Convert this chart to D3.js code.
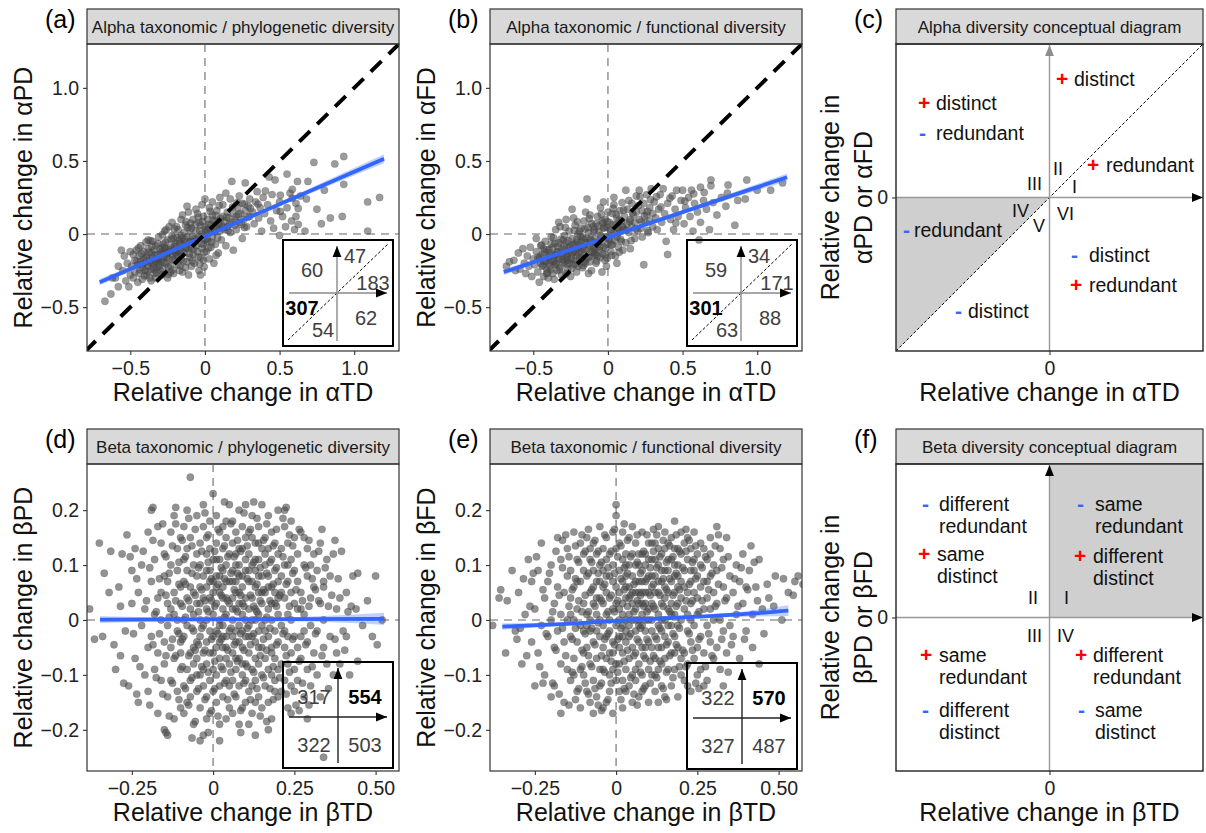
<!DOCTYPE html>
<html>
<head>
<meta charset="utf-8">
<script src="https://cdn.jsdelivr.net/npm/d3@7"></script>
<style>
  body { margin: 0; background: #fff; }
  text { font-family: Arial, "Liberation Sans", sans-serif; }
</style>
</head>
<body>
<div id="fig"></div>
<script>
// ---------- data ----------
const alphaTicks = [-0.5, 0, 0.5, 1.0];
const alphaTickLabels = ["−0.5", "0", "0.5", "1.0"];
const betaXTicks = [-0.25, 0, 0.25, 0.5];
const betaXTickLabels = ["−0.25", "0", "0.25", "0.50"];
const betaYTicks = [-0.2, -0.1, 0, 0.1, 0.2];
const betaYTickLabels = ["−0.2", "−0.1", "0", "0.1", "0.2"];

// quadrant counts: alpha [UL, UR above 1:1, UR below 1:1, LL above 1:1, LL below 1:1, LR]
const alphaPDCounts = [60, 47, 183, 307, 54, 62];
const alphaFDCounts = [59, 34, 171, 301, 63, 88];
// beta [UL, UR, LL, LR]
const betaPDCounts = [317, 554, 322, 503];
const betaFDCounts = [322, 570, 327, 487];

// fitted lines: [x, y, half width of ribbon]
const alphaPDFit = [[-0.705, -0.329, 0.022], [-0.3, -0.150, 0.012], [0, -0.017, 0.009], [0.6, 0.249, 0.016], [1.2, 0.515, 0.030]];
const alphaFDFit = [[-0.698, -0.260, 0.020], [-0.3, -0.124, 0.011], [0, -0.021, 0.008], [0.6, 0.184, 0.014], [1.2, 0.389, 0.026]];
const betaPDFit = [[-0.348, 0.0006, 0.006], [0, 0.001, 0.003], [0.25, 0.0015, 0.004], [0.526, 0.002, 0.011]];
const betaFDFit = [[-0.35, -0.012, 0.006], [-0.15, -0.007, 0.003], [0.05, 0.000, 0.003], [0.25, 0.006, 0.003], [0.40, 0.011, 0.005], [0.53, 0.017, 0.010]];

// points: [relative change TD, relative change PD / FD]
const alphaPD = [
[-0.67,-0.46],[-0.63,-0.41],[-0.60,-0.30],[-0.58,-0.36],[-0.56,-0.11],[-0.55,-0.25],[-0.53,-0.32],[-0.52,-0.20],[-0.51,-0.36],[-0.50,-0.28],[-0.58,-0.22],[-0.54,-0.15],[-0.62,-0.30],[-0.50,-0.12],
[-0.49,-0.22],[-0.48,-0.30],[-0.47,-0.18],[-0.47,-0.26],[-0.46,-0.11],[-0.45,-0.33],[-0.45,-0.21],[-0.44,-0.15],[-0.44,-0.27],[-0.43,-0.08],[-0.42,-0.23],[-0.42,-0.31],[-0.41,-0.17],[-0.41,-0.12],[-0.40,-0.25],[-0.40,-0.20],[-0.48,-0.14],[-0.43,-0.19],
[-0.39,-0.15],[-0.39,-0.28],[-0.38,-0.22],[-0.38,-0.10],[-0.37,-0.18],[-0.37,-0.30],[-0.36,-0.13],[-0.36,-0.24],[-0.35,-0.05],[-0.35,-0.20],[-0.35,-0.16],[-0.34,-0.27],[-0.34,-0.11],[-0.33,-0.19],[-0.33,-0.08],[-0.32,-0.23],[-0.32,-0.14],[-0.31,-0.02],[-0.31,-0.17],[-0.30,-0.25],[-0.30,-0.10],[-0.36,-0.32],[-0.33,-0.30],[-0.38,-0.04],[-0.31,-0.20],
[-0.29,-0.12],[-0.29,-0.19],[-0.28,-0.07],[-0.28,-0.24],[-0.27,-0.15],[-0.27,0.02],[-0.26,-0.10],[-0.26,-0.20],[-0.25,-0.30],[-0.25,-0.13],[-0.25,-0.04],[-0.24,-0.17],[-0.24,0.05],[-0.23,-0.09],[-0.23,-0.22],[-0.22,-0.14],[-0.22,-0.01],[-0.21,-0.27],[-0.21,-0.11],[-0.20,-0.06],[-0.20,-0.18],[-0.29,-0.28],[-0.27,-0.09],[-0.24,-0.12],[-0.22,0.08],[-0.26,0.03],[-0.28,-0.16],[-0.21,-0.03],[-0.23,-0.26],[-0.20,-0.13],
[-0.19,-0.08],[-0.19,-0.15],[-0.18,0.03],[-0.18,-0.21],[-0.17,-0.11],[-0.17,-0.04],[-0.16,0.10],[-0.16,-0.17],[-0.15,-0.07],[-0.15,-0.26],[-0.14,0.01],[-0.14,-0.13],[-0.13,-0.09],[-0.13,0.06],[-0.12,-0.19],[-0.12,-0.02],[-0.11,0.15],[-0.11,-0.10],[-0.10,-0.05],[-0.10,-0.16],[-0.19,0.05],[-0.17,-0.25],[-0.15,0.13],[-0.14,-0.05],[-0.12,0.19],[-0.13,-0.23],[-0.11,-0.28],[-0.18,-0.12],[-0.16,-0.01],[-0.10,0.03],
[-0.09,-0.09],[-0.09,0.04],[-0.08,-0.14],[-0.08,0.10],[-0.07,-0.03],[-0.07,-0.20],[-0.06,0.02],[-0.06,-0.08],[-0.05,0.14],[-0.05,-0.12],[-0.04,-0.02],[-0.04,-0.25],[-0.03,0.06],[-0.03,-0.16],[-0.02,0.00],[-0.02,0.20],[-0.01,-0.07],[-0.01,-0.18],[0.00,0.24],[0.00,-0.04],[-0.09,-0.22],[-0.06,0.17],[-0.04,0.08],[-0.02,-0.10],[-0.01,0.12],[-0.08,-0.05],[-0.03,-0.28],[0.00,0.05],
[0.01,0.03],[0.01,-0.12],[0.02,0.10],[0.02,-0.05],[0.03,0.01],[0.03,0.18],[0.04,-0.09],[0.04,0.06],[0.05,0.13],[0.05,-0.02],[0.06,0.03],[0.06,-0.20],[0.07,0.09],[0.07,-0.07],[0.08,0.04],[0.08,0.16],[0.09,-0.13],[0.09,0.07],[0.10,0.02],[0.10,0.25],[0.05,0.22],[0.03,-0.17],
[0.11,0.06],[0.11,-0.04],[0.12,0.12],[0.12,0.20],[0.13,0.03],[0.13,0.09],[0.14,-0.08],[0.15,0.15],[0.15,0.05],[0.16,0.11],[0.17,0.01],[0.17,0.24],[0.18,0.08],[0.18,0.36],[0.19,0.14],[0.19,-0.11],[0.20,0.06],[0.14,0.28],
[0.21,0.12],[0.21,0.03],[0.22,0.18],[0.23,0.08],[0.23,0.26],[0.24,0.14],[0.25,-0.03],[0.25,0.21],[0.26,0.10],[0.27,0.35],[0.27,0.16],[0.28,0.05],[0.29,0.19],[0.30,0.24],[0.30,0.12],
[0.32,0.15],[0.33,0.07],[0.34,0.22],[0.35,0.29],[0.36,0.11],[0.37,0.18],[0.38,0.02],[0.39,0.25],[0.40,0.14],[0.42,0.20],[0.43,0.39],[0.44,0.09],[0.45,0.27],[0.46,0.04],[0.47,0.37],[0.48,0.16],
[0.50,-0.01],[0.50,0.22],[0.52,0.12],[0.54,0.05],[0.55,0.41],[0.55,0.18],[0.57,0.28],[0.58,0.09],[0.60,0.03],[0.61,0.21],[0.61,0.12],[0.62,0.36],[0.64,0.26],[0.67,0.02],[0.68,0.24],[0.69,0.36],
[0.73,0.49],[0.75,0.17],[0.80,0.30],[0.84,0.11],[0.87,0.48],[0.92,0.12],[0.93,0.53],[0.93,0.34],[1.09,0.22],[1.09,0.02],[1.17,0.25],[0.78,0.07],
[-0.455,-0.185],[-0.435,-0.245],[-0.425,-0.135],[-0.415,-0.205],[-0.395,-0.165],[-0.385,-0.255],[-0.375,-0.125],[-0.365,-0.195],[-0.355,-0.085],[-0.345,-0.225],[-0.335,-0.145],[-0.325,-0.175],[-0.315,-0.065],[-0.305,-0.215],[-0.295,-0.135],[-0.285,-0.095],[-0.275,-0.195],[-0.265,-0.055],[-0.255,-0.155],[-0.245,-0.225],[-0.235,-0.105],[-0.225,-0.035],[-0.215,-0.175],[-0.205,-0.085],[-0.195,-0.125],[-0.185,-0.025],[-0.175,-0.155],[-0.165,-0.065],[-0.155,-0.115],[-0.145,-0.185],[-0.135,-0.035],[-0.125,-0.095],[-0.115,0.045],[-0.105,-0.135],[-0.095,-0.055],[-0.085,-0.015],[-0.075,-0.105],[-0.065,0.065],[-0.055,-0.035],[-0.045,-0.155],[-0.035,0.025],[-0.025,-0.065],[-0.015,0.085],[-0.005,-0.125],[0.005,0.015],[0.015,-0.035],[0.025,0.065],[0.035,0.035],[0.045,-0.055],[0.055,0.095],[0.065,0.015],[0.075,0.125],[0.085,-0.025],[0.095,0.055],[0.105,0.105],[0.125,0.045],[0.145,0.115],[0.165,0.065],[0.185,0.185],[0.205,0.095],[0.225,0.135],[0.245,0.065],[0.265,0.205],[0.285,0.115],
[-0.445,-0.095],[-0.405,-0.285],[-0.365,-0.045],[-0.325,-0.265],[-0.285,-0.005],[-0.245,-0.275],[-0.205,0.035],[-0.165,-0.215],[-0.125,0.085],[-0.085,-0.185],[-0.045,0.115],[-0.005,-0.225],[0.035,0.155],[0.075,-0.145],[-0.395,-0.055],[-0.335,-0.245],[-0.275,-0.125],[-0.215,-0.245],[-0.155,-0.025],[-0.095,0.075],[-0.035,-0.205],[0.025,-0.095],[0.095,0.195],[0.155,0.025],[0.215,0.215],[0.265,0.045],[0.305,0.175],[0.355,0.205],[0.405,0.295],[0.505,0.155],[0.585,0.245],[0.625,0.175],[0.625,0.065],[0.585,0.305],[0.505,0.265]
];

const alphaFD = [
[-0.68,-0.22],[-0.66,-0.19],[-0.63,-0.18],[-0.62,-0.25],[-0.60,-0.13],[-0.59,-0.24],[-0.57,-0.10],[-0.56,-0.20],[-0.55,-0.27],[-0.54,-0.15],[-0.53,-0.22],[-0.52,-0.09],[-0.51,-0.29],[-0.50,-0.17],
[-0.49,-0.21],[-0.48,-0.12],[-0.47,-0.26],[-0.46,-0.33],[-0.46,-0.17],[-0.45,-0.08],[-0.44,-0.22],[-0.44,-0.14],[-0.43,-0.29],[-0.42,-0.19],[-0.42,-0.05],[-0.41,-0.24],[-0.41,-0.11],[-0.40,-0.16],[-0.40,-0.30],[-0.48,-0.03],[-0.45,-0.20],[-0.43,-0.10],[-0.47,-0.16],[-0.41,-0.27],
[-0.39,-0.13],[-0.39,-0.22],[-0.38,-0.02],[-0.38,-0.18],[-0.37,-0.27],[-0.37,-0.09],[-0.36,-0.15],[-0.36,-0.31],[-0.35,0.03],[-0.35,-0.20],[-0.34,-0.12],[-0.34,-0.25],[-0.33,-0.06],[-0.33,-0.17],[-0.32,-0.23],[-0.32,0.05],[-0.31,-0.10],[-0.31,-0.28],[-0.30,-0.15],[-0.30,-0.04],[-0.38,-0.07],[-0.35,-0.14],[-0.33,0.08],[-0.36,-0.21],[-0.30,-0.20],
[-0.29,-0.11],[-0.29,-0.19],[-0.28,0.10],[-0.28,-0.06],[-0.27,-0.24],[-0.27,-0.14],[-0.26,0.02],[-0.26,-0.09],[-0.25,-0.29],[-0.25,-0.17],[-0.24,0.17],[-0.24,-0.03],[-0.23,-0.12],[-0.23,-0.21],[-0.22,0.06],[-0.22,-0.07],[-0.21,-0.15],[-0.21,-0.26],[-0.20,0.00],[-0.20,-0.10],[-0.29,-0.01],[-0.27,-0.18],[-0.25,-0.08],[-0.24,-0.13],[-0.23,0.11],[-0.28,-0.27],[-0.26,-0.20],[-0.22,-0.18],[-0.21,-0.04],[-0.20,-0.22],
[-0.19,-0.08],[-0.19,-0.17],[-0.18,0.04],[-0.18,-0.12],[-0.17,-0.23],[-0.17,-0.02],[-0.16,0.09],[-0.16,-0.14],[-0.15,-0.06],[-0.15,-0.20],[-0.14,0.24],[-0.14,-0.10],[-0.13,0.01],[-0.13,-0.16],[-0.12,-0.04],[-0.12,0.13],[-0.11,-0.12],[-0.11,-0.25],[-0.10,0.05],[-0.10,-0.08],[-0.19,0.02],[-0.17,-0.09],[-0.15,0.15],[-0.14,-0.03],[-0.13,-0.27],[-0.12,-0.19],[-0.18,-0.05],[-0.16,-0.19],[-0.11,0.07],[-0.10,-0.15],
[-0.09,-0.03],[-0.09,-0.13],[-0.08,0.07],[-0.08,-0.20],[-0.07,-0.07],[-0.07,0.12],[-0.06,-0.11],[-0.06,0.02],[-0.05,-0.16],[-0.05,0.18],[-0.04,-0.05],[-0.04,-0.26],[-0.03,0.04],[-0.03,-0.09],[-0.02,-0.14],[-0.02,0.10],[-0.01,-0.02],[-0.01,-0.22],[0.00,0.15],[0.00,-0.07],[-0.09,0.03],[-0.07,-0.15],[-0.05,-0.01],[-0.04,0.09],[-0.02,-0.18],[-0.01,0.05],[-0.08,-0.10],[-0.03,0.22],
[0.01,-0.04],[0.01,0.08],[0.02,-0.12],[0.02,0.03],[0.03,0.14],[0.03,-0.07],[0.04,0.01],[0.04,0.20],[0.05,-0.15],[0.05,0.06],[0.06,-0.02],[0.06,0.11],[0.07,0.04],[0.07,-0.09],[0.08,0.16],[0.08,0.02],[0.09,-0.05],[0.09,0.09],[0.10,0.05],[0.10,-0.11],[0.04,0.25],[0.06,-0.20],
[0.11,0.03],[0.11,0.12],[0.12,-0.06],[0.12,0.30],[0.13,0.07],[0.13,0.17],[0.14,0.01],[0.15,0.10],[0.15,-0.10],[0.16,0.05],[0.16,0.21],[0.17,0.13],[0.18,-0.03],[0.18,0.08],[0.19,0.26],[0.19,0.15],[0.20,0.02],[0.14,0.23],
[0.21,0.10],[0.21,0.30],[0.22,0.04],[0.23,0.16],[0.23,-0.02],[0.24,0.21],[0.24,-0.21],[0.25,0.08],[0.26,0.13],[0.26,0.27],[0.27,0.01],[0.28,0.18],[0.28,0.09],[0.29,0.31],[0.30,0.05],[0.30,0.14],
[0.31,0.22],[0.32,0.11],[0.33,0.03],[0.34,0.17],[0.35,0.27],[0.36,0.08],[0.37,0.31],[0.38,0.14],[0.39,-0.05],[0.40,-0.14],[0.40,0.21],[0.42,0.10],[0.43,0.26],[0.44,0.03],[0.45,0.17],[0.46,0.30],[0.47,0.12],[0.49,0.23],
[0.50,0.30],[0.51,0.07],[0.52,0.18],[0.54,0.25],[0.55,0.12],[0.56,0.30],[0.57,0.02],[0.58,0.21],[0.60,0.15],[0.61,-0.04],[0.62,0.32],[0.62,0.08],[0.64,0.23],[0.66,0.17],[0.68,0.03],[0.69,0.37],
[0.69,0.33],[0.73,0.13],[0.76,0.25],[0.80,0.28],[0.85,0.06],[0.87,0.23],[0.92,0.24],[0.93,0.37],[1.00,0.30],[1.09,0.30],[1.17,0.35],[0.79,0.19],
[-0.455,-0.155],[-0.435,-0.215],[-0.425,-0.125],[-0.415,-0.185],[-0.395,-0.105],[-0.385,-0.245],[-0.375,-0.145],[-0.365,-0.185],[-0.355,-0.065],[-0.345,-0.205],[-0.335,-0.125],[-0.325,-0.155],[-0.315,-0.035],[-0.305,-0.175],[-0.295,-0.085],[-0.285,-0.135],[-0.275,-0.205],[-0.265,-0.045],[-0.255,-0.115],[-0.245,-0.235],[-0.235,-0.075],[-0.225,0.025],[-0.215,-0.125],[-0.205,-0.055],[-0.195,-0.135],[-0.185,-0.015],[-0.175,-0.165],[-0.165,-0.035],[-0.155,-0.105],[-0.145,-0.165],[-0.135,0.045],[-0.125,-0.075],[-0.115,-0.035],[-0.105,-0.125],[-0.095,0.015],[-0.085,-0.055],[-0.075,-0.185],[-0.065,0.055],[-0.055,-0.085],[-0.045,-0.025],[-0.035,-0.135],[-0.025,0.045],[-0.015,-0.095],[-0.005,0.085],[0.005,-0.025],[0.015,0.025],[0.025,-0.075],[0.035,0.065],[0.045,-0.045],[0.055,0.135],[0.065,0.005],[0.075,0.095],[0.085,-0.035],[0.095,0.045],[0.105,0.165],[0.125,0.025],[0.145,0.085],[0.165,0.145],[0.185,0.035],[0.205,0.195],[0.225,0.085],[0.245,0.125],[0.265,0.025],[0.285,0.235],
[-0.445,-0.075],[-0.405,-0.265],[-0.365,-0.025],[-0.325,-0.245],[-0.285,0.045],[-0.245,-0.165],[-0.205,0.085],[-0.165,-0.215],[-0.125,0.105],[-0.085,-0.145],[-0.045,0.135],[-0.005,-0.165],[0.035,0.175],[0.075,-0.125],[-0.395,-0.195],[-0.335,-0.085],[-0.275,-0.155],[-0.215,-0.205],[-0.155,0.035],[-0.095,-0.095],[-0.035,0.075],[0.025,-0.145],[0.095,0.215],[0.155,-0.045],[0.215,0.255],[0.265,0.155],[0.325,0.255],[0.355,0.185],[0.415,0.245],[0.455,0.075],[0.515,0.225],[0.575,0.275],[0.645,0.285],[0.705,0.215],[0.805,0.335]
];

const betaPD = [
[-0.38,0.02],[-0.35,0.14],[-0.34,-0.03],[-0.32,0.05],
[-0.30,-0.09],[-0.29,0.06],[-0.28,0.12],[-0.27,-0.02],[-0.26,-0.12],[-0.25,0.09],
[-0.25,0.03],[-0.24,-0.07],[-0.24,0.13],[-0.23,-0.15],[-0.23,0.05],[-0.22,-0.01],[-0.22,0.10],[-0.21,-0.10],[-0.21,0.02],[-0.20,-0.05],[-0.20,0.16],
[-0.20,-0.13],[-0.19,0.07],[-0.19,-0.03],[-0.19,0.20],[-0.18,-0.09],[-0.18,0.01],[-0.18,0.11],[-0.17,-0.17],[-0.17,0.04],[-0.17,-0.06],[-0.16,0.14],[-0.16,-0.11],[-0.16,0.00],[-0.15,0.08],[-0.15,-0.20],[-0.15,-0.04],[-0.17,0.17],[-0.16,0.05],
[-0.15,0.12],[-0.15,-0.08],[-0.14,0.03],[-0.14,-0.14],[-0.14,0.07],[-0.14,-0.01],[-0.13,0.16],[-0.13,-0.05],[-0.13,0.10],[-0.13,-0.11],[-0.12,0.01],[-0.12,-0.18],[-0.12,0.05],[-0.12,-0.07],[-0.12,0.19],[-0.11,-0.02],[-0.11,0.09],[-0.11,-0.13],[-0.11,0.13],[-0.11,0.00],[-0.10,-0.09],[-0.10,0.06],[-0.10,-0.04],[-0.10,0.15],[-0.10,-0.16],[-0.14,-0.21],[-0.13,0.02],
[-0.10,0.03],[-0.10,-0.06],[-0.09,0.11],[-0.09,-0.12],[-0.09,0.00],[-0.09,0.07],[-0.09,-0.03],[-0.09,0.17],[-0.08,-0.09],[-0.08,0.04],[-0.08,-0.15],[-0.08,0.13],[-0.08,-0.01],[-0.08,0.09],[-0.07,0.26],[-0.07,-0.06],[-0.07,0.02],[-0.07,-0.11],[-0.07,0.06],[-0.07,0.15],[-0.06,-0.02],[-0.06,-0.19],[-0.06,0.10],[-0.06,0.01],[-0.06,-0.08],[-0.06,0.05],[-0.05,-0.13],[-0.05,0.12],[-0.05,-0.04],[-0.05,0.08],[-0.05,0.19],[-0.05,-0.10],[-0.09,-0.17],[-0.08,0.20],[-0.07,-0.14],[-0.06,-0.05],[-0.05,0.03],
[-0.05,-0.07],[-0.04,0.00],[-0.04,0.14],[-0.04,-0.10],[-0.04,0.06],[-0.04,-0.03],[-0.04,0.10],[-0.04,-0.16],[-0.03,0.04],[-0.03,-0.06],[-0.03,0.17],[-0.03,-0.12],[-0.03,0.08],[-0.03,-0.01],[-0.03,0.21],[-0.03,-0.21],[-0.02,0.02],[-0.02,-0.08],[-0.02,0.12],[-0.02,-0.04],[-0.02,0.06],[-0.02,-0.14],[-0.02,0.15],[-0.02,0.00],[-0.01,-0.11],[-0.01,0.09],[-0.01,-0.02],[-0.01,0.04],[-0.01,-0.17],[-0.01,0.13],[-0.01,-0.06],[-0.01,0.18],[0.00,0.01],[0.00,-0.09],[0.00,0.07],[0.00,0.23],[0.00,-0.13],[0.00,-0.03],[0.00,0.11],[-0.04,0.03],[-0.03,-0.09],[-0.02,0.09],[-0.01,0.07],[-0.04,-0.22],[-0.02,-0.18],[0.00,0.05],
[0.00,-0.06],[0.01,0.03],[0.01,-0.10],[0.01,0.14],[0.01,-0.02],[0.01,0.08],[0.01,-0.15],[0.01,0.19],[0.02,0.00],[0.02,-0.07],[0.02,0.11],[0.02,-0.12],[0.02,0.05],[0.02,-0.04],[0.02,0.16],[0.02,-0.19],[0.03,0.02],[0.03,-0.09],[0.03,0.09],[0.03,-0.01],[0.03,0.13],[0.03,-0.14],[0.03,0.06],[0.03,-0.05],[0.04,0.18],[0.04,-0.03],[0.04,0.04],[0.04,-0.11],[0.04,0.10],[0.04,-0.07],[0.04,0.01],[0.04,0.15],[0.05,-0.16],[0.05,0.07],[0.05,-0.02],[0.05,0.12],[0.05,-0.08],[0.05,0.03],[0.05,0.21],[0.01,0.06],[0.02,-0.01],[0.03,0.17],[0.04,-0.18],[0.01,-0.05],[0.02,0.08],[0.03,-0.03],[0.04,0.07],[0.05,-0.12],[0.01,0.11],[0.03,0.04],[0.02,-0.22],[0.04,-0.05],
[0.06,0.00],[0.06,0.09],[0.06,-0.06],[0.06,0.14],[0.06,-0.11],[0.06,0.04],[0.06,-0.17],[0.06,0.18],[0.07,-0.02],[0.07,0.07],[0.07,-0.09],[0.07,0.12],[0.07,-0.04],[0.07,0.02],[0.07,-0.14],[0.07,0.16],[0.08,0.05],[0.08,-0.07],[0.08,0.10],[0.08,-0.01],[0.08,0.20],[0.08,-0.12],[0.08,0.03],[0.08,-0.19],[0.09,0.08],[0.09,-0.05],[0.09,0.13],[0.09,-0.10],[0.09,0.01],[0.09,0.06],[0.09,-0.02],[0.09,0.17],[0.10,-0.08],[0.10,0.11],[0.10,-0.15],[0.10,0.04],[0.10,-0.03],[0.10,0.09],[0.10,0.21],[0.06,0.07],[0.07,-0.07],[0.08,0.13],[0.09,-0.16],[0.10,0.00],[0.06,-0.03],[0.07,0.10],[0.08,-0.04],[0.09,0.03],[0.10,0.15],[0.07,0.05],[0.08,0.08],[0.09,-0.08],[0.06,0.02],[0.10,-0.11],
[0.11,0.02],[0.11,-0.06],[0.11,0.12],[0.11,-0.13],[0.11,0.07],[0.11,-0.01],[0.11,0.16],[0.12,-0.09],[0.12,0.04],[0.12,-0.03],[0.12,0.10],[0.12,-0.17],[0.12,0.19],[0.12,0.00],[0.13,0.06],[0.13,-0.07],[0.13,0.14],[0.13,-0.11],[0.13,0.02],[0.13,-0.04],[0.13,0.09],[0.13,-0.21],[0.14,0.17],[0.14,-0.02],[0.14,0.05],[0.14,-0.14],[0.14,0.11],[0.14,-0.08],[0.14,0.01],[0.15,0.08],[0.15,-0.05],[0.15,0.13],[0.15,-0.10],[0.15,0.03],[0.15,0.21],[0.11,0.09],[0.12,-0.12],[0.13,0.11],[0.14,-0.05],[0.15,-0.01],[0.11,-0.03],[0.12,0.07],[0.13,-0.15],[0.14,0.14],[0.15,0.05],[0.12,0.15],[0.13,0.00],[0.14,0.08],[0.11,-0.19],[0.15,-0.16],
[0.16,0.00],[0.16,0.10],[0.16,-0.07],[0.16,0.15],[0.16,-0.12],[0.16,0.05],[0.17,-0.03],[0.17,0.08],[0.17,-0.15],[0.17,0.13],[0.17,0.02],[0.17,-0.09],[0.17,0.19],[0.18,-0.05],[0.18,0.06],[0.18,-0.18],[0.18,0.11],[0.18,0.00],[0.18,-0.10],[0.18,0.16],[0.19,0.03],[0.19,-0.07],[0.19,0.09],[0.19,-0.02],[0.19,0.14],[0.19,-0.13],[0.20,0.07],[0.20,-0.04],[0.20,0.12],[0.20,-0.09],[0.20,0.01],[0.20,0.20],[0.16,-0.02],[0.17,0.06],[0.18,0.03],[0.19,-0.11],[0.20,-0.14],[0.16,0.12],[0.18,-0.06],[0.19,0.05],[0.17,-0.20],[0.20,0.04],
[0.21,-0.01],[0.21,0.08],[0.21,-0.08],[0.21,0.13],[0.21,-0.13],[0.22,0.04],[0.22,-0.05],[0.22,0.10],[0.22,0.17],[0.22,-0.11],[0.23,0.01],[0.23,-0.16],[0.23,0.07],[0.23,-0.03],[0.23,0.14],[0.23,-0.08],[0.24,0.05],[0.24,-0.06],[0.24,0.11],[0.24,0.00],[0.24,-0.12],[0.24,0.18],[0.25,0.03],[0.25,-0.09],[0.25,0.09],[0.25,-0.03],[0.25,0.15],[0.21,0.05],[0.22,-0.02],[0.23,0.10],[0.24,-0.17],[0.25,-0.13],[0.22,0.20],
[0.26,-0.05],[0.26,0.07],[0.26,0.12],[0.26,-0.11],[0.27,0.02],[0.27,-0.07],[0.27,0.16],[0.27,0.05],[0.28,-0.02],[0.28,0.10],[0.28,-0.14],[0.28,0.01],[0.29,0.08],[0.29,-0.09],[0.29,0.13],[0.29,-0.04],[0.30,0.04],[0.30,-0.12],[0.30,0.10],[0.30,-0.01],[0.26,0.02],[0.28,0.15],[0.29,-0.18],[0.27,-0.03],
[0.31,0.06],[0.31,-0.06],[0.31,0.12],[0.32,-0.02],[0.32,0.09],[0.32,-0.10],[0.33,0.03],[0.33,0.14],[0.33,-0.14],[0.34,-0.05],[0.34,0.07],[0.34,0.00],[0.35,0.11],[0.35,-0.08],[0.34,0.06],
[0.36,-0.03],[0.36,0.08],[0.37,0.12],[0.37,-0.10],[0.38,0.02],[0.38,-0.06],[0.39,-0.08],[0.39,0.04],[0.40,-0.02],
[0.41,0.05],[0.41,-0.03],[0.43,0.08],[0.42,-0.10],[0.44,0.02],
[0.46,-0.01],[0.49,-0.03],[0.50,0.08],[0.52,0.00],[0.34,-0.25],
[-0.335,0.085],[-0.305,-0.045],[-0.285,0.025],[-0.275,-0.115],[-0.265,0.155],[-0.245,-0.025],[-0.235,0.075],[-0.225,-0.085],[-0.215,0.125],[-0.205,0.035],[-0.195,-0.155],[-0.195,0.095],[-0.185,-0.045],[-0.185,0.145],[-0.175,0.015],[-0.175,-0.105],[-0.165,0.075],[-0.165,-0.025],[-0.155,0.175],[-0.155,-0.135],[-0.145,0.045],[-0.145,-0.065],[-0.145,0.115],[-0.135,-0.175],[-0.135,0.005],[-0.135,0.085],[-0.125,-0.035],[-0.125,0.135],[-0.125,-0.115],[-0.115,0.035],[-0.115,-0.065],[-0.115,0.175],[-0.105,0.105],[-0.105,-0.025],[-0.105,-0.145],[-0.105,0.065],
[-0.095,0.025],[-0.095,-0.085],[-0.095,0.145],[-0.095,-0.035],[-0.085,0.065],[-0.085,-0.125],[-0.085,0.005],[-0.085,0.115],[-0.075,-0.065],[-0.075,0.185],[-0.075,0.035],[-0.075,-0.155],[-0.065,0.085],[-0.065,-0.015],[-0.065,0.135],[-0.065,-0.105],[-0.055,0.045],[-0.055,-0.055],[-0.055,0.165],[-0.055,-0.185],[-0.045,0.015],[-0.045,-0.125],[-0.045,0.095],[-0.045,-0.045],[-0.035,0.125],[-0.035,-0.085],[-0.035,0.055],[-0.035,-0.015],[-0.025,0.195],[-0.025,-0.145],[-0.025,0.035],[-0.025,-0.055],[-0.015,0.105],[-0.015,-0.095],[-0.015,0.015],[-0.015,0.155],[-0.005,-0.035],[-0.005,0.075],[-0.005,-0.165],[-0.005,0.035],
[0.005,0.125],[0.005,-0.075],[0.005,0.025],[0.005,-0.125],[0.015,0.065],[0.015,-0.025],[0.015,0.165],[0.015,-0.175],[0.025,0.045],[0.025,-0.085],[0.025,0.095],[0.025,-0.035],[0.035,0.135],[0.035,-0.115],[0.035,0.005],[0.035,0.075],[0.045,-0.055],[0.045,0.115],[0.045,-0.145],[0.045,0.035],[0.055,-0.015],[0.055,0.085],[0.055,-0.095],[0.055,0.175],[0.065,0.055],[0.065,-0.045],[0.065,0.115],[0.065,-0.135],[0.075,0.015],[0.075,-0.075],[0.075,0.145],[0.075,0.085],[0.085,-0.025],[0.085,0.045],[0.085,-0.165],[0.085,0.125],[0.095,-0.055],[0.095,0.025],[0.095,0.195],[0.095,-0.115],[0.105,0.075],[0.105,-0.015],[0.105,0.135],[0.105,-0.085],
[0.115,0.045],[0.115,-0.045],[0.115,0.165],[0.115,-0.145],[0.125,0.025],[0.125,-0.095],[0.125,0.105],[0.125,-0.025],[0.135,0.065],[0.135,-0.125],[0.135,0.185],[0.135,0.015],[0.145,-0.065],[0.145,0.095],[0.145,-0.175],[0.145,0.035],[0.155,0.145],[0.155,-0.035],[0.155,0.055],[0.155,-0.105],[0.165,0.085],[0.165,-0.055],[0.165,0.005],[0.165,0.175],[0.175,-0.125],[0.175,0.035],[0.175,0.105],[0.175,-0.015],[0.185,0.065],[0.185,-0.085],[0.185,0.135],[0.185,-0.145],[0.195,0.025],[0.195,-0.045],[0.195,0.165],[0.195,0.095],
[0.205,-0.105],[0.205,0.045],[0.215,-0.025],[0.215,0.115],[0.215,0.185],[0.225,-0.065],[0.225,0.065],[0.225,-0.135],[0.235,0.025],[0.235,0.155],[0.235,-0.095],[0.245,0.085],[0.245,-0.035],[0.245,0.135],[0.255,-0.155],[0.255,0.055],[0.265,-0.075],[0.265,0.165],[0.275,0.035],[0.275,-0.115],[0.285,0.095],[0.285,-0.045],[0.295,0.025],[0.295,0.145],[0.305,-0.085],[0.305,0.075],[0.315,-0.025],[0.325,0.125],[0.325,0.035],[0.335,-0.065],[0.345,0.095],[0.355,-0.125],[0.365,0.045],[0.375,-0.035],[0.385,0.075],[0.395,0.125],[0.405,-0.055],[0.425,0.025],[0.445,-0.075],[0.475,0.035],[0.505,-0.045],[0.375,0.145],[0.335,0.165],[0.295,-0.155],
[-0.235,-0.135],[-0.185,0.205],[-0.145,-0.205],[-0.115,0.205],[-0.065,-0.215],[-0.015,-0.205],[0.035,0.215],[0.085,-0.205],[0.125,0.215],[0.165,-0.185],[0.225,0.205],[0.265,-0.165],[-0.255,0.115],[-0.285,-0.065],[-0.315,0.125],[-0.365,-0.035],[0.445,0.085],[0.415,0.015],[0.355,0.025],[0.315,0.055]
];

const betaFD = [
[-0.38,-0.01],[-0.36,0.04],[-0.34,-0.06],[-0.32,0.09],[-0.31,-0.02],
[-0.30,0.05],[-0.29,-0.08],[-0.28,0.01],[-0.27,0.11],[-0.26,-0.04],[-0.26,0.07],[-0.25,-0.12],
[-0.25,0.02],[-0.24,-0.06],[-0.24,0.09],[-0.23,-0.01],[-0.23,0.14],[-0.22,-0.10],[-0.22,0.04],[-0.21,-0.03],[-0.21,0.07],[-0.20,-0.14],[-0.20,0.00],
[-0.20,0.10],[-0.19,-0.05],[-0.19,0.03],[-0.19,-0.12],[-0.18,0.06],[-0.18,-0.02],[-0.18,0.15],[-0.17,-0.08],[-0.17,0.01],[-0.17,0.11],[-0.16,-0.15],[-0.16,-0.04],[-0.16,0.05],[-0.15,0.08],[-0.15,-0.09],[-0.15,0.00],[-0.17,-0.17],
[-0.15,0.13],[-0.14,-0.03],[-0.14,0.04],[-0.14,-0.11],[-0.14,0.09],[-0.13,0.00],[-0.13,-0.07],[-0.13,0.16],[-0.13,0.06],[-0.12,-0.13],[-0.12,0.02],[-0.12,-0.04],[-0.12,0.11],[-0.11,-0.09],[-0.11,0.07],[-0.11,-0.01],[-0.11,0.14],[-0.11,-0.16],[-0.10,0.03],[-0.10,-0.06],[-0.10,0.09],[-0.10,-0.02],[-0.14,0.01],[-0.12,0.07],[-0.13,-0.10],
[-0.10,0.12],[-0.10,-0.10],[-0.09,0.01],[-0.09,-0.05],[-0.09,0.08],[-0.09,-0.13],[-0.09,0.15],[-0.08,-0.02],[-0.08,0.05],[-0.08,-0.08],[-0.08,0.11],[-0.08,0.00],[-0.08,-0.15],[-0.07,0.03],[-0.07,-0.04],[-0.07,0.09],[-0.07,-0.11],[-0.07,0.14],[-0.07,0.06],[-0.06,-0.07],[-0.06,0.01],[-0.06,0.12],[-0.06,-0.02],[-0.06,-0.14],[-0.06,0.07],[-0.05,0.04],[-0.05,-0.09],[-0.05,0.17],[-0.05,-0.03],[-0.05,0.10],[-0.09,-0.01],[-0.07,-0.17],[-0.06,0.04],[-0.08,0.13],
[-0.05,0.00],[-0.05,-0.12],[-0.04,0.06],[-0.04,-0.05],[-0.04,0.13],[-0.04,-0.01],[-0.04,-0.09],[-0.04,0.09],[-0.04,0.03],[-0.03,-0.15],[-0.03,0.11],[-0.03,-0.03],[-0.03,0.05],[-0.03,-0.07],[-0.03,0.15],[-0.03,0.01],[-0.02,-0.10],[-0.02,0.08],[-0.02,-0.02],[-0.02,0.04],[-0.02,-0.13],[-0.02,0.12],[-0.02,0.00],[-0.01,-0.06],[-0.01,0.07],[-0.01,-0.17],[-0.01,0.02],[-0.01,0.16],[-0.01,-0.04],[-0.01,0.10],[0.00,-0.08],[0.00,0.03],[0.00,0.21],[0.00,0.19],[0.00,-0.01],[0.00,0.13],[0.00,-0.11],[-0.04,-0.16],[-0.03,0.08],[-0.02,-0.06],[-0.01,-0.09],[-0.05,0.07],
[0.00,0.06],[0.01,-0.03],[0.01,0.09],[0.01,-0.08],[0.01,0.02],[0.01,0.14],[0.01,-0.13],[0.01,0.05],[0.02,-0.01],[0.02,0.11],[0.02,-0.06],[0.02,0.03],[0.02,-0.11],[0.02,0.07],[0.02,0.16],[0.02,-0.16],[0.03,0.00],[0.03,-0.04],[0.03,0.08],[0.03,-0.09],[0.03,0.12],[0.03,0.04],[0.03,-0.02],[0.04,0.06],[0.04,-0.07],[0.04,0.10],[0.04,-0.12],[0.04,0.01],[0.04,0.15],[0.04,-0.03],[0.05,0.03],[0.05,-0.10],[0.05,0.08],[0.05,-0.05],[0.05,0.12],[0.05,0.00],[0.05,-0.15],[0.01,0.00],[0.02,0.01],[0.03,0.10],[0.04,-0.01],[0.05,0.05],[0.01,-0.05],[0.02,-0.03],[0.03,0.06],[0.04,0.04],[0.03,-0.13],[0.05,0.17],
[0.06,0.02],[0.06,-0.06],[0.06,0.10],[0.06,-0.11],[0.06,0.05],[0.06,-0.02],[0.06,0.14],[0.07,0.00],[0.07,-0.08],[0.07,0.07],[0.07,-0.14],[0.07,0.12],[0.07,0.03],[0.07,-0.04],[0.08,0.09],[0.08,-0.01],[0.08,0.05],[0.08,-0.10],[0.08,0.16],[0.08,-0.05],[0.08,0.01],[0.09,0.07],[0.09,-0.07],[0.09,0.12],[0.09,-0.12],[0.09,0.03],[0.09,-0.02],[0.09,0.10],[0.10,0.05],[0.10,-0.09],[0.10,0.00],[0.10,0.14],[0.10,-0.15],[0.10,0.08],[0.06,0.07],[0.07,0.05],[0.08,0.12],[0.09,0.00],[0.10,-0.04],[0.06,-0.09],[0.07,0.10],[0.08,-0.13],[0.09,0.05],[0.10,0.02],[0.07,-0.01],[0.08,0.03],[0.09,-0.05],[0.10,0.11],[0.06,0.00],[0.08,0.07],
[0.11,0.03],[0.11,-0.05],[0.11,0.11],[0.11,-0.10],[0.11,0.06],[0.11,0.00],[0.12,-0.03],[0.12,0.08],[0.12,-0.13],[0.12,0.14],[0.12,0.02],[0.12,-0.07],[0.13,0.05],[0.13,-0.01],[0.13,0.10],[0.13,-0.09],[0.13,0.17],[0.13,0.01],[0.14,-0.05],[0.14,0.07],[0.14,-0.12],[0.14,0.12],[0.14,0.03],[0.14,-0.02],[0.15,0.09],[0.15,-0.07],[0.15,0.04],[0.15,0.13],[0.15,-0.14],[0.15,0.00],[0.11,0.08],[0.12,0.05],[0.13,-0.05],[0.14,0.09],[0.15,0.06],[0.11,-0.02],[0.12,-0.10],[0.13,0.07],[0.14,0.00],[0.15,-0.03],[0.12,0.11],[0.13,0.13],[0.11,0.14],[0.14,-0.08],[0.13,-0.15],[0.15,0.16],
[0.16,0.02],[0.16,-0.04],[0.16,0.09],[0.16,-0.09],[0.16,0.14],[0.16,0.05],[0.17,-0.01],[0.17,0.07],[0.17,-0.12],[0.17,0.11],[0.17,0.03],[0.17,-0.06],[0.18,0.05],[0.18,-0.03],[0.18,0.13],[0.18,-0.09],[0.18,0.01],[0.18,0.08],[0.19,-0.05],[0.19,0.10],[0.19,0.03],[0.19,-0.14],[0.19,0.06],[0.19,-0.01],[0.20,0.12],[0.20,-0.07],[0.20,0.04],[0.20,0.00],[0.20,0.16],[0.16,0.11],[0.17,0.15],[0.18,-0.06],[0.19,0.13],[0.20,-0.10],[0.16,-0.01],[0.17,0.01],[0.18,0.10],[0.19,0.08],[0.20,0.07],[0.18,0.18],
[0.21,0.02],[0.21,-0.06],[0.21,0.09],[0.21,0.14],[0.21,-0.11],[0.22,0.05],[0.22,-0.02],[0.22,0.11],[0.22,-0.08],[0.22,0.01],[0.23,0.07],[0.23,-0.04],[0.23,0.13],[0.23,0.03],[0.23,-0.13],[0.24,0.09],[0.24,-0.01],[0.24,0.05],[0.24,-0.07],[0.24,0.16],[0.25,0.01],[0.25,0.08],[0.25,-0.05],[0.25,0.12],[0.21,0.06],[0.22,0.15],[0.23,0.00],[0.24,0.11],[0.25,-0.10],[0.22,-0.12],[0.23,0.09],[0.25,0.04],
[0.26,0.06],[0.26,-0.03],[0.26,0.10],[0.26,-0.09],[0.27,0.02],[0.27,0.13],[0.27,-0.06],[0.27,0.07],[0.28,-0.01],[0.28,0.04],[0.28,0.11],[0.28,-0.11],[0.29,0.08],[0.29,-0.04],[0.29,0.02],[0.29,0.15],[0.30,0.05],[0.30,-0.07],[0.30,0.10],[0.30,0.00],[0.26,0.14],[0.27,-0.12],[0.28,0.07],[0.29,0.12],
[0.31,0.03],[0.31,-0.05],[0.31,0.09],[0.32,0.13],[0.32,0.00],[0.32,-0.09],[0.33,0.06],[0.33,-0.02],[0.33,0.11],[0.34,0.04],[0.34,-0.06],[0.34,0.15],[0.35,0.08],[0.35,-0.01],[0.31,0.17],[0.33,-0.12],
[0.36,0.05],[0.36,-0.03],[0.37,0.10],[0.37,0.01],[0.38,-0.07],[0.38,0.07],[0.39,0.03],[0.39,0.12],[0.40,-0.02],[0.40,0.06],
[0.41,0.09],[0.42,0.01],[0.42,-0.05],[0.43,0.06],[0.44,0.11],[0.45,0.02],
[0.47,0.04],[0.49,0.08],[0.51,0.00],[0.53,0.05],[0.55,0.07],[0.56,0.08],[0.44,-0.08],
[-0.335,0.035],[-0.305,-0.035],[-0.285,0.075],[-0.275,-0.065],[-0.265,0.025],[-0.245,0.115],[-0.235,-0.085],[-0.225,0.055],[-0.215,-0.025],[-0.205,0.085],[-0.195,-0.115],[-0.195,0.015],[-0.185,-0.055],[-0.185,0.125],[-0.175,0.045],[-0.175,-0.135],[-0.165,0.095],[-0.165,-0.015],[-0.155,0.155],[-0.155,-0.065],[-0.145,0.025],[-0.145,-0.155],[-0.145,0.115],[-0.135,-0.035],[-0.135,0.055],[-0.135,-0.095],[-0.125,0.135],[-0.125,-0.015],[-0.125,0.075],[-0.115,-0.125],[-0.115,0.035],[-0.115,0.105],[-0.105,-0.055],[-0.105,0.155],[-0.105,0.015],[-0.105,-0.085],
[-0.095,0.045],[-0.095,-0.115],[-0.095,0.125],[-0.095,-0.025],[-0.085,0.085],[-0.085,-0.065],[-0.085,0.015],[-0.085,-0.135],[-0.075,0.105],[-0.075,-0.015],[-0.075,0.055],[-0.075,-0.085],[-0.065,0.145],[-0.065,-0.045],[-0.065,0.025],[-0.065,-0.125],[-0.055,0.085],[-0.055,-0.005],[-0.055,0.125],[-0.055,-0.155],[-0.045,0.035],[-0.045,-0.065],[-0.045,0.105],[-0.045,-0.115],[-0.035,0.065],[-0.035,-0.035],[-0.035,0.155],[-0.035,-0.095],[-0.025,0.015],[-0.025,0.095],[-0.025,-0.145],[-0.025,-0.025],[-0.015,0.125],[-0.015,-0.075],[-0.015,0.045],[-0.015,-0.115],[-0.005,0.085],[-0.005,-0.045],[-0.005,0.165],[-0.005,0.015],
[0.005,-0.095],[0.005,0.035],[0.005,0.115],[0.005,-0.035],[0.015,0.075],[0.015,-0.145],[0.015,0.135],[0.015,-0.015],[0.025,0.055],[0.025,-0.075],[0.025,0.095],[0.025,-0.125],[0.035,0.025],[0.035,-0.055],[0.035,0.145],[0.035,0.085],[0.045,-0.105],[0.045,0.045],[0.045,-0.025],[0.045,0.115],[0.055,-0.065],[0.055,0.065],[0.055,0.015],[0.055,-0.135],[0.065,0.105],[0.065,-0.035],[0.065,0.035],[0.065,0.155],[0.075,-0.095],[0.075,0.085],[0.075,-0.015],[0.075,0.045],[0.085,0.125],[0.085,-0.065],[0.085,0.025],[0.085,-0.125],[0.095,0.075],[0.095,-0.035],[0.095,0.155],[0.095,0.015],[0.105,-0.075],[0.105,0.095],[0.105,0.045],[0.105,-0.115],
[0.115,0.025],[0.115,-0.065],[0.115,0.125],[0.115,0.065],[0.125,-0.035],[0.125,0.095],[0.125,-0.105],[0.125,0.155],[0.135,0.045],[0.135,-0.075],[0.135,0.115],[0.135,-0.015],[0.145,0.075],[0.145,-0.125],[0.145,0.025],[0.145,0.145],[0.155,-0.045],[0.155,0.105],[0.155,-0.095],[0.155,0.055],[0.165,0.015],[0.165,0.135],[0.165,-0.065],[0.165,0.075],[0.175,-0.025],[0.175,0.115],[0.175,0.045],[0.175,-0.105],[0.185,0.155],[0.185,-0.045],[0.185,0.025],[0.185,0.085],[0.195,-0.085],[0.195,0.055],[0.195,0.125],[0.195,-0.015],
[0.205,0.095],[0.205,-0.055],[0.215,0.035],[0.215,0.125],[0.215,-0.085],[0.225,0.065],[0.225,-0.025],[0.225,0.145],[0.235,-0.055],[0.235,0.105],[0.235,0.035],[0.245,-0.115],[0.245,0.075],[0.245,0.135],[0.255,0.015],[0.255,-0.035],[0.265,0.095],[0.265,0.035],[0.275,-0.085],[0.275,0.115],[0.285,0.055],[0.285,-0.025],[0.295,0.085],[0.295,-0.065],[0.305,0.025],[0.305,0.135],[0.315,0.065],[0.325,-0.035],[0.325,0.095],[0.335,0.035],[0.345,0.115],[0.355,-0.045],[0.365,0.075],[0.375,0.025],[0.385,0.095],[0.395,-0.035],[0.405,0.055],[0.425,0.105],[0.435,0.035],[0.465,0.065],[0.485,0.025],[0.515,0.075],[0.545,0.045],[0.575,0.065],
[-0.225,-0.115],[-0.165,0.145],[-0.125,-0.145],[-0.085,0.165],[-0.045,-0.165],[0.025,0.175],[0.065,-0.155],[0.115,0.165],[0.155,-0.145],[0.215,0.165],[0.255,-0.125],[-0.255,0.085],[-0.295,-0.015],[-0.355,0.055],[0.455,-0.025],[0.415,0.135],[0.345,-0.095],[0.315,0.155]
];

// ---------- layout ----------
const W = 1206, H = 833;
const cols = [87, 490, 896];
const colW = [312, 312, 307];
const rows = [9, 429];
const headerH = 35;
const plotH = 307;
const tickFont = 19.5;
const titleFont = 25;

const svg = d3.select('#fig').append('svg')
  .attr('width', W).attr('height', H)
  .style('background', '#fff');
const defs = svg.append('defs');

function addMarker(id, color, size) {
  defs.append('marker')
    .attr('id', id)
    .attr('viewBox', '0 0 10 10')
    .attr('refX', 10).attr('refY', 5)
    .attr('markerWidth', size).attr('markerHeight', size)
    .attr('markerUnits', 'userSpaceOnUse')
    .attr('orient', 'auto')
    .append('path')
    .attr('d', 'M0,1 L10,5 L0,9 z')
    .attr('fill', color);
}
addMarker('arrowBlack', '#000', 11);
addMarker('arrowGrey', '#8c8c8c', 11);

function frame(col, row, title, label) {
  const x0 = cols[col], y0 = rows[row], w = colW[col];
  const g = svg.append('g').attr('transform', `translate(${x0},${y0})`);
  g.append('rect')
    .attr('width', w).attr('height', headerH)
    .attr('fill', '#d9d9d9').attr('stroke', '#333').attr('stroke-width', 1.2);
  g.append('text')
    .attr('x', w / 2).attr('y', headerH / 2 + 6)
    .attr('text-anchor', 'middle')
    .attr('font-size', 17).attr('fill', '#1a1a1a')
    .text(title);
  svg.append('text')
    .attr('x', x0 - 42).attr('y', y0 + 19)
    .attr('font-size', 25).attr('fill', '#000')
    .text(label);
  const p = g.append('g').attr('transform', `translate(0,${headerH})`);
  return { g: p, w };
}

function styleAxis(sel) {
  sel.select('.domain').remove();
  sel.selectAll('.tick line').attr('stroke', '#333').attr('stroke-width', 1.1);
  sel.selectAll('.tick text')
    .attr('font-size', tickFont).attr('fill', '#222')
    .attr('font-family', 'Arial, "Liberation Sans", sans-serif');
}

function axisTitles(f, xTitle, yTitles) {
  f.g.append('text')
    .attr('x', f.w / 2).attr('y', plotH + 50)
    .attr('text-anchor', 'middle')
    .attr('font-size', titleFont).attr('fill', '#111')
    .text(xTitle);
  const offs = yTitles.length === 1 ? [-55] : [-57, -24];
  yTitles.forEach((t, i) => {
    f.g.append('text')
      .attr('transform', `translate(${offs[i]},${plotH / 2}) rotate(-90)`)
      .attr('text-anchor', 'middle')
      .attr('font-size', titleFont).attr('fill', '#111')
      .text(t);
  });
}

// inset quadrant summary
function inset(g, bx, by, kind, counts, boldIdx) {
  const b = g.append('g').attr('transform', `translate(${bx},${by})`);
  b.append('rect').attr('width', 110).attr('height', 106)
    .attr('fill', 'none').attr('stroke', '#000').attr('stroke-width', 2);
  let pos, vx, hy;
  if (kind === 'alpha') {
    vx = 54; hy = 53;
    b.append('line').attr('x1', 5).attr('y1', 100).attr('x2', 105).attr('y2', 4)
      .attr('stroke', '#000').attr('stroke-width', 1).attr('stroke-dasharray', '3,2');
    pos = [[29, 37], [72, 23], [90, 50], [19, 75], [40, 97], [83, 85]];
  } else {
    vx = 55; hy = 55;
    pos = [[31, 42], [82, 42], [31, 90], [82, 90]];
  }
  b.append('line').attr('x1', 6).attr('y1', hy).attr('x2', 104).attr('y2', hy)
    .attr('stroke', kind === 'alpha' ? '#8a8a8a' : '#222').attr('stroke-width', 1.4)
    .attr('marker-end', 'url(#arrowBlack)');
  b.append('line').attr('x1', vx).attr('y1', 101).attr('x2', vx).attr('y2', 6)
    .attr('stroke', kind === 'alpha' ? '#8a8a8a' : '#222').attr('stroke-width', 1.4)
    .attr('marker-end', 'url(#arrowBlack)');
  b.selectAll('text.count').data(counts).join('text')
    .attr('class', 'count')
    .attr('x', (d, i) => pos[i][0]).attr('y', (d, i) => pos[i][1])
    .attr('text-anchor', 'middle')
    .attr('font-family', 'Lato, "Open Sans", sans-serif')
    .attr('font-size', 20)
    .attr('font-weight', (d, i) => i === boldIdx ? 'bold' : 'normal')
    .attr('fill', (d, i) => i === boldIdx ? '#000' : '#404040')
    .text(d => d);
}

function scatterPanel(col, row, o) {
  const f = frame(col, row, o.title, o.label);
  const x = d3.scaleLinear().domain(o.xDomain).range([0, f.w]);
  const y = d3.scaleLinear().domain(o.yDomain).range([plotH, 0]);
  const clipId = `clip-${col}-${row}`;
  defs.append('clipPath').attr('id', clipId)
    .append('rect').attr('width', f.w).attr('height', plotH);
  const inner = f.g.append('g').attr('clip-path', `url(#${clipId})`);

  // zero reference lines
  inner.append('line')
    .attr('x1', x(0)).attr('x2', x(0)).attr('y1', 0).attr('y2', plotH)
    .attr('stroke', '#999').attr('stroke-width', 1.6).attr('stroke-dasharray', '8,6');
  inner.append('line')
    .attr('x1', 0).attr('x2', f.w).attr('y1', y(0)).attr('y2', y(0))
    .attr('stroke', '#999').attr('stroke-width', 1.6).attr('stroke-dasharray', '8,6');

  inner.selectAll('circle').data(o.points).join('circle')
    .attr('cx', d => x(d[0])).attr('cy', d => y(d[1]))
    .attr('r', 3.7)
    .attr('fill', '#4a4a4a').attr('fill-opacity', o.alpha)
    .attr('stroke', '#333').attr('stroke-opacity', 0.25).attr('stroke-width', 0.6);

  // smooth fit
  inner.append('path').datum(o.fit)
    .attr('d', d3.area().x(d => x(d[0])).y0(d => y(d[1] - d[2])).y1(d => y(d[1] + d[2])).curve(d3.curveMonotoneX))
    .attr('fill', '#3366ff').attr('fill-opacity', 0.3);
  inner.append('path').datum(o.fit)
    .attr('d', d3.line().x(d => x(d[0])).y(d => y(d[1])).curve(d3.curveMonotoneX))
    .attr('fill', 'none').attr('stroke', '#3366ff').attr('stroke-width', 3.8);

  if (o.oneToOne) {
    inner.append('line')
      .attr('x1', x(-2)).attr('y1', y(-2)).attr('x2', x(2)).attr('y2', y(2))
      .attr('stroke', '#000').attr('stroke-width', 4).attr('stroke-dasharray', '15,10');
  }

  f.g.append('rect').attr('width', f.w).attr('height', plotH)
    .attr('fill', 'none').attr('stroke', '#333').attr('stroke-width', 1.2);

  f.g.append('g').attr('transform', `translate(0,${plotH})`)
    .call(d3.axisBottom(x).tickValues(o.xTicks).tickFormat((d, i) => o.xTickLabels[i]).tickSize(4).tickPadding(6))
    .call(styleAxis);
  f.g.append('g')
    .call(d3.axisLeft(y).tickValues(o.yTicks).tickFormat((d, i) => o.yTickLabels[i]).tickSize(4).tickPadding(4))
    .call(styleAxis);

  axisTitles(f, o.xTitle, [o.yTitle]);
  inset(f.g, o.insetX, o.insetY, o.insetKind, o.counts, o.boldIdx);
}

function conceptPanel(col, row, o) {
  const f = frame(col, row, o.title, o.label);
  const x = d3.scaleLinear().domain([-1, 1]).range([0, f.w]);
  const y = d3.scaleLinear().domain([-1, 1]).range([plotH, 0]);
  const cx = x(0), cy = y(0);

  if (o.kind === 'alpha') {
    f.g.append('path')
      .attr('d', `M${x(-1)},${y(0)} L${x(0)},${y(0)} L${x(-1)},${y(-1)} Z`)
      .attr('fill', '#cfcfcf');
    f.g.append('line')
      .attr('x1', x(-1)).attr('y1', y(-1)).attr('x2', x(1)).attr('y2', y(1))
      .attr('stroke', '#000').attr('stroke-width', 1).attr('stroke-dasharray', '3,2');
  } else {
    f.g.append('rect')
      .attr('x', x(0)).attr('y', y(1)).attr('width', x(1) - x(0)).attr('height', y(0) - y(1))
      .attr('fill', '#cfcfcf');
  }
  f.g.append('line').attr('x1', x(-1)).attr('y1', cy).attr('x2', x(1)).attr('y2', cy)
    .attr('stroke', '#999').attr('stroke-width', 1.4).attr('marker-end', 'url(#arrowBlack)');
  f.g.append('line').attr('x1', cx).attr('y1', y(-1)).attr('x2', cx).attr('y2', y(1) + 1)
    .attr('stroke', '#999').attr('stroke-width', 1.4)
    .attr('marker-end', o.kind === 'alpha' ? 'url(#arrowGrey)' : 'url(#arrowBlack)');

  o.notes.forEach(n => {
    f.g.append('text')
      .attr('x', n.sx).attr('y', n.y)
      .attr('font-size', 21).attr('font-weight', 'bold')
      .attr('fill', n.sign === '+' ? '#ff0000' : '#3366ff')
      .text(n.sign);
    const t = f.g.append('text')
      .attr('x', n.tx).attr('y', n.y)
      .attr('font-size', 19.5).attr('fill', '#111');
    n.lines.forEach((s, i) => {
      t.append('tspan').attr('x', n.tx).attr('dy', i === 0 ? 0 : 22).text(s);
    });
  });
  o.numerals.forEach(n => {
    f.g.append('text')
      .attr('x', n[1]).attr('y', n[2])
      .attr('font-size', 18).attr('fill', '#111')
      .text(n[0]);
  });

  f.g.append('rect').attr('width', f.w).attr('height', plotH)
    .attr('fill', 'none').attr('stroke', '#222').attr('stroke-width', 1.4);

  f.g.append('g').attr('transform', `translate(0,${plotH})`)
    .call(d3.axisBottom(x).tickValues([0]).tickFormat(() => '0').tickSize(4).tickPadding(6))
    .call(styleAxis);
  f.g.append('g')
    .call(d3.axisLeft(y).tickValues([0]).tickFormat(() => '0').tickSize(4).tickPadding(4))
    .call(styleAxis);
  axisTitles(f, o.xTitle, o.yTitles);
}

// ---------- panels ----------
scatterPanel(0, 0, {
  title: 'Alpha taxonomic / phylogenetic diversity', label: '(a)',
  xDomain: [-0.79, 1.30], yDomain: [-0.80, 1.30],
  xTicks: alphaTicks, xTickLabels: alphaTickLabels, yTicks: alphaTicks, yTickLabels: alphaTickLabels,
  points: alphaPD, fit: alphaPDFit, alpha: 0.55, oneToOne: true,
  xTitle: 'Relative change in αTD', yTitle: 'Relative change in αPD',
  insetX: 196, insetY: 196, insetKind: 'alpha', counts: alphaPDCounts, boldIdx: 3
});
scatterPanel(1, 0, {
  title: 'Alpha taxonomic / functional diversity', label: '(b)',
  xDomain: [-0.79, 1.30], yDomain: [-0.80, 1.30],
  xTicks: alphaTicks, xTickLabels: alphaTickLabels, yTicks: alphaTicks, yTickLabels: alphaTickLabels,
  points: alphaFD, fit: alphaFDFit, alpha: 0.55, oneToOne: true,
  xTitle: 'Relative change in αTD', yTitle: 'Relative change in αFD',
  insetX: 197, insetY: 196, insetKind: 'alpha', counts: alphaFDCounts, boldIdx: 3
});
scatterPanel(0, 1, {
  title: 'Beta taxonomic / phylogenetic diversity', label: '(d)',
  xDomain: [-0.388, 0.572], yDomain: [-0.275, 0.284],
  xTicks: betaXTicks, xTickLabels: betaXTickLabels, yTicks: betaYTicks, yTickLabels: betaYTickLabels,
  points: betaPD, fit: betaPDFit, alpha: 0.6, oneToOne: false,
  xTitle: 'Relative change in βTD', yTitle: 'Relative change in βPD',
  insetX: 196, insetY: 198, insetKind: 'beta', counts: betaPDCounts, boldIdx: 1
});
scatterPanel(1, 1, {
  title: 'Beta taxonomic / functional diversity', label: '(e)',
  xDomain: [-0.388, 0.572], yDomain: [-0.275, 0.284],
  xTicks: betaXTicks, xTickLabels: betaXTickLabels, yTicks: betaYTicks, yTickLabels: betaYTickLabels,
  points: betaFD, fit: betaFDFit, alpha: 0.6, oneToOne: false,
  xTitle: 'Relative change in βTD', yTitle: 'Relative change in βFD',
  insetX: 197, insetY: 199, insetKind: 'beta', counts: betaFDCounts, boldIdx: 1
});

conceptPanel(2, 0, {
  kind: 'alpha', title: 'Alpha diversity conceptual diagram', label: '(c)',
  xTitle: 'Relative change in αTD', yTitles: ['Relative change in', 'αPD or αFD'],
  notes: [
    { sign: '+', sx: 160, tx: 178, y: 42, lines: ['distinct'] },
    { sign: '+', sx: 22, tx: 40, y: 66, lines: ['distinct'] },
    { sign: '-', sx: 23, tx: 40, y: 96, lines: ['redundant'] },
    { sign: '+', sx: 191, tx: 210, y: 128, lines: ['redundant'] },
    { sign: '-', sx: 7, tx: 18, y: 193, lines: ['redundant'] },
    { sign: '-', sx: 175, tx: 193, y: 218, lines: ['distinct'] },
    { sign: '+', sx: 174, tx: 193, y: 248, lines: ['redundant'] },
    { sign: '-', sx: 59, tx: 72, y: 274, lines: ['distinct'] }
  ],
  numerals: [['II', 157, 131], ['III', 131, 146], ['I', 176, 149], ['IV', 116, 173], ['VI', 161, 176], ['V', 137, 188]]
});
conceptPanel(2, 1, {
  kind: 'beta', title: 'Beta diversity conceptual diagram', label: '(f)',
  xTitle: 'Relative change in βTD', yTitles: ['Relative change in', 'βPD or βFD'],
  notes: [
    { sign: '-', sx: 26, tx: 43, y: 47, lines: ['different', 'redundant'] },
    { sign: '+', sx: 22, tx: 41, y: 97, lines: ['same', 'distinct'] },
    { sign: '-', sx: 181, tx: 199, y: 47, lines: ['same', 'redundant'] },
    { sign: '+', sx: 178, tx: 197, y: 99, lines: ['different', 'distinct'] },
    { sign: '+', sx: 24, tx: 43, y: 198, lines: ['same', 'redundant'] },
    { sign: '-', sx: 26, tx: 43, y: 253, lines: ['different', 'distinct'] },
    { sign: '+', sx: 179, tx: 197, y: 198, lines: ['different', 'redundant'] },
    { sign: '-', sx: 182, tx: 199, y: 253, lines: ['same', 'distinct'] }
  ],
  numerals: [['II', 132, 140], ['I', 168, 140], ['III', 131, 178], ['IV', 161, 178]]
});
</script>
</body>
</html>
